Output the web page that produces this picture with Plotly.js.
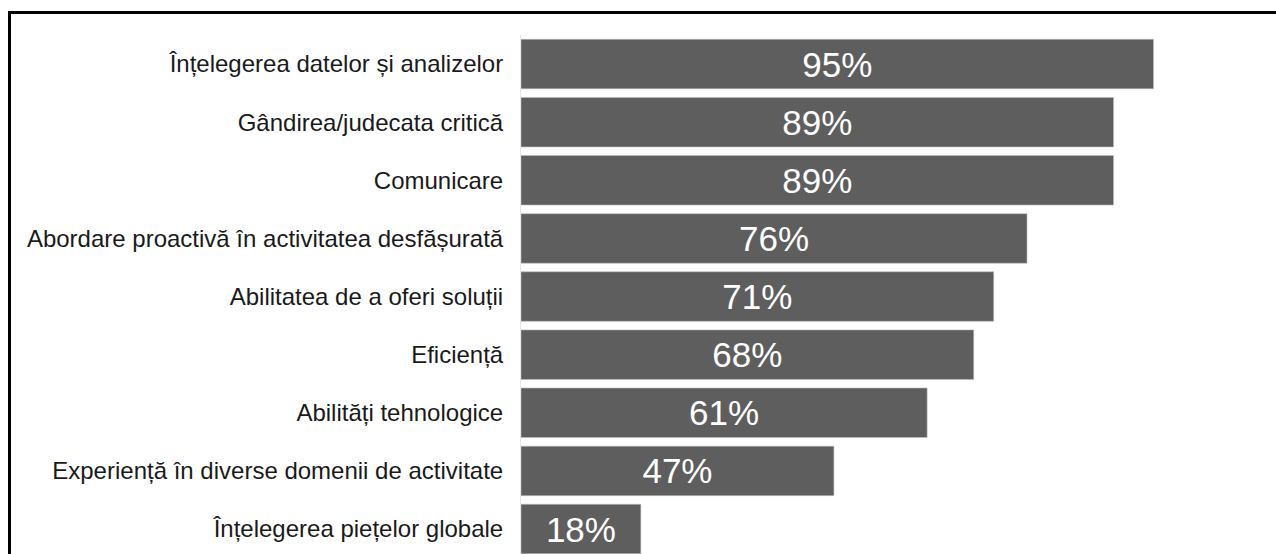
<!DOCTYPE html>
<html>
<head>
<meta charset="utf-8">
<script src="https://cdn.plot.ly/plotly-3.0.1.min.js"></script>
<style>
  html, body { margin: 0; padding: 0; background: #ffffff; }
  #chart { width: 1276px; height: 554px; }
</style>
</head>
<body>
<div id="chart"></div>
<script>
const categories = [
  "Înțelegerea datelor și analizelor",
  "Gândirea/judecata critică",
  "Comunicare",
  "Abordare proactivă în activitatea desfășurată",
  "Abilitatea de a oferi soluții",
  "Eficiență",
  "Abilități tehnologice",
  "Experiență în diverse domenii de activitate",
  "Înțelegerea piețelor globale"
];
const values = [95, 89, 89, 76, 71, 68, 61, 47, 18];
const valueLabels = values.map(v => v + "%");

const trace = {
  type: "bar",
  orientation: "h",
  x: values,
  y: categories,
  text: valueLabels,
  textposition: "inside",
  insidetextanchor: "middle",
  constraintext: "none",
  textfont: { family: "Liberation Sans, Arial, sans-serif", size: 35, color: "#ffffff" },
  marker: { color: "#5e5e5e", line: { color: "#bdbdbd", width: 0.6 } },
  hoverinfo: "none",
  cliponaxis: true
};

const layout = {
  width: 1276,
  height: 554,
  margin: { l: 521, r: 0, t: 35, b: 0, pad: 0 },
  paper_bgcolor: "#ffffff",
  plot_bgcolor: "#ffffff",
  showlegend: false,
  bargap: 0.148,
  font: { family: "Liberation Sans, Arial, sans-serif", color: "#1a1a1a" },
  xaxis: {
    range: [0, 113.4],
    visible: false,
    showgrid: false,
    zeroline: false
  },
  yaxis: {
    type: "category",
    range: [8.43, -0.5],
    showgrid: false,
    zeroline: false,
    showline: true,
    linecolor: "#e6e6e6",
    linewidth: 1,
    ticks: "",
    ticklabelstandoff: 12,
    tickfont: { family: "Liberation Sans, Arial, sans-serif", size: 24, color: "#1a1a1a" }
  },
  shapes: [
    {
      type: "rect",
      xref: "paper", yref: "paper",
      x0: (9.5 - 521) / 755, x1: 1.05,
      y0: -0.2, y1: 1 + 22.5 / 519,
      line: { color: "#000000", width: 3 },
      fillcolor: "rgba(0,0,0,0)",
      layer: "above"
    }
  ]
};

Plotly.newPlot("chart", [trace], layout, { staticPlot: true, displayModeBar: false });
</script>
</body>
</html>
